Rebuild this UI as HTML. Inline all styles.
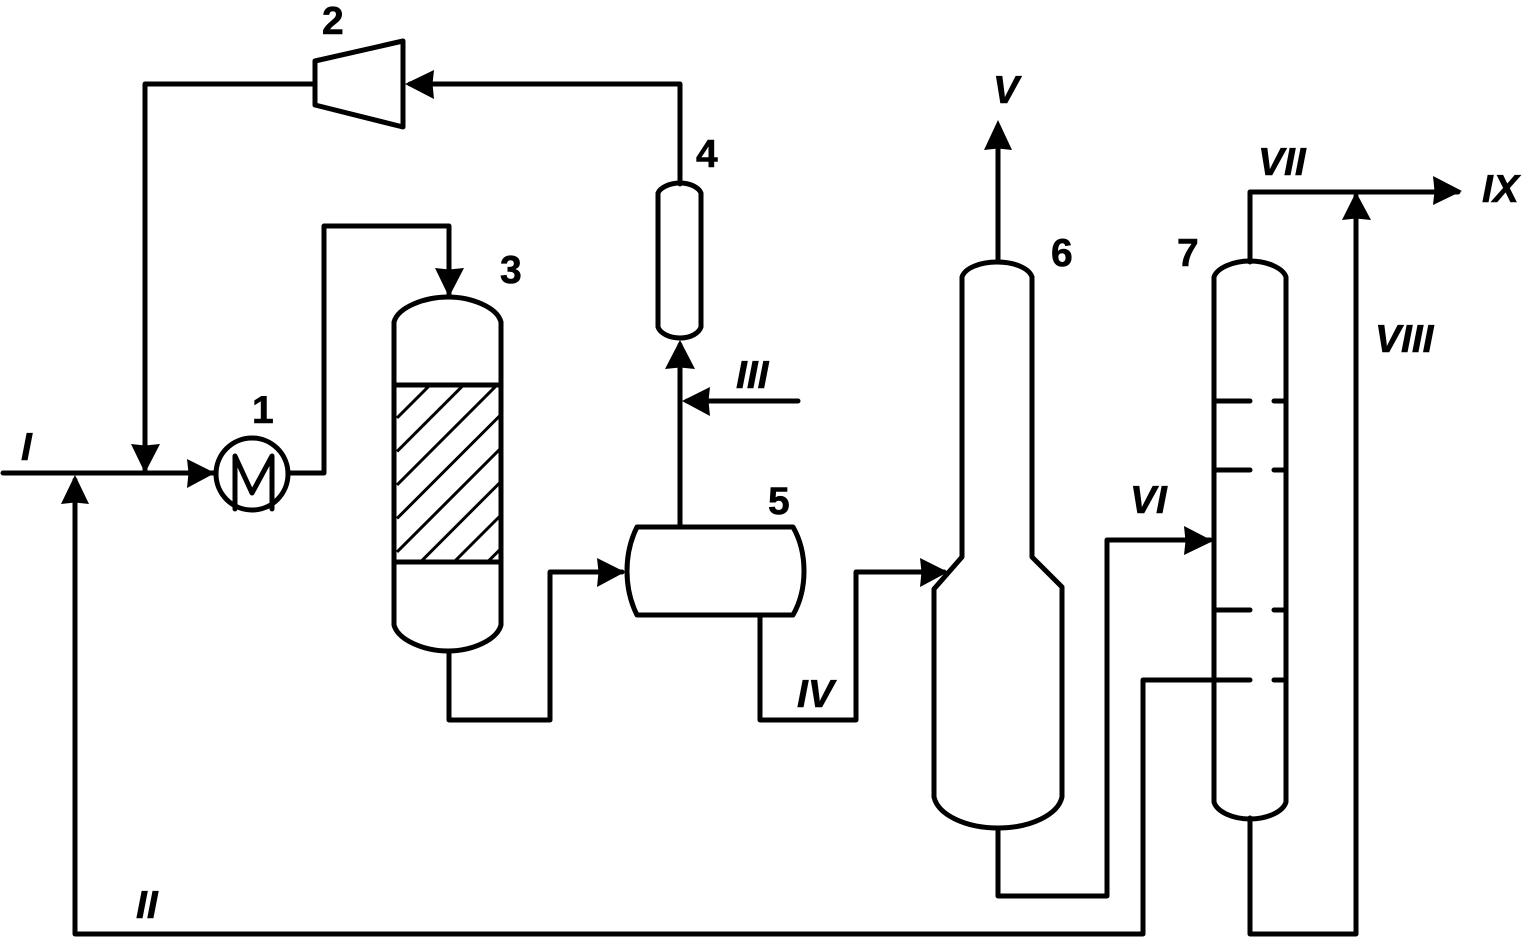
<!DOCTYPE html>
<html>
<head>
<meta charset="utf-8">
<style>
html,body{margin:0;padding:0;background:#fff;}
svg{display:block;}
text{font-family:"Liberation Sans",sans-serif;font-weight:bold;font-size:39px;fill:#000;stroke:#000;stroke-width:.6px;}
.r{font-style:italic;}
</style>
</head>
<body>
<svg width="1528" height="940" viewBox="0 0 1528 940" xmlns="http://www.w3.org/2000/svg">
<defs><clipPath id="c"><rect x="396" y="387" width="103" height="174"/></clipPath></defs>
<rect width="1528" height="940" fill="#fff"/>
<g clip-path="url(#c)" stroke="#000" stroke-width="3" fill="none">
<path d="M397 418L500 315M397 451.5L500 348.5M397 485L500 382M397 518.5L500 415.5M397 552L500 449M397 585.500L500 482.500M397 619L500 516M397 652.500L500 549.500"/>
</g>
<g fill="none" stroke="#000" stroke-width="5" stroke-linejoin="round" stroke-linecap="round">
<!-- process lines -->
<path d="M3 473H215"/>
<path d="M315 84H145V470"/>
<path d="M680 184V84H410"/>
<path d="M290 473H324V226H449V294"/>
<path d="M449 651V720H550V572H622"/>
<path d="M680 525V345"/>
<path d="M798 401H687"/>
<path d="M760 615V720H856V572H944"/>
<path d="M998 262V127"/>
<path d="M998 828V896H1107V540H1210"/>
<path d="M1250 262V192H1458"/>
<path d="M1250 818V934H1356V196"/>
<path d="M1215 680H1143V934H75V480"/>
<!-- compressor -->
<path d="M315 61L403 41V127L315 105Z"/>
<!-- exchanger -->
<circle cx="252" cy="474" r="36"/>
<path d="M235 509V456L252 493L272 456V509"/>
<!-- vessel 3 -->
<path d="M394 625V322C398 307 425 297 448 297C471 297 497 307 501 322V625C497 640 472 651 448 651C424 651 398 640 394 625Z"/>
<path d="M394 385H501M394 562H501"/>
<!-- vessel 4 -->
<path d="M658 193C660 188 669 183 680 183C691 183 699 188 701 193V327C699 333 691 338 680 338C669 338 660 333 658 327Z"/>
<!-- vessel 5 -->
<path d="M637 527H793C801 541 804 556 804 571C804 586 801 601 793 615H637C630 601 627 586 627 571C627 556 630 541 637 527Z"/>
<!-- column 6 -->
<path d="M962 557V277C965 268 980 262 997 262C1014 262 1029 268 1032 277V557L1062 587V797C1058 815 1030 828 998 828C966 828 938 815 934 797V589Z"/>
<!-- column 7 -->
<path d="M1214 277C1217 268 1233 261 1250 261C1267 261 1283 268 1286 277V802C1283 812 1267 819 1250 819C1233 819 1217 812 1214 802Z"/>
<!-- trays -->
<path d="M1214 401H1250M1274 401H1285M1214 470H1250M1274 470H1285M1214 610H1250M1274 610H1285M1214 680H1250M1274 680H1285"/>
</g>
<g fill="#000">
<path d="M215 473L187 459L188.500 473L187 488Z"/>
<path d="M145 473L131 444L145 445.500L160 444Z"/>
<path d="M75 475L61 504L75 502.500L89 504Z"/>
<path d="M405 84L434 70L432.500 84L434 99Z"/>
<path d="M449 297L435 268L449 269.500L464 268Z"/>
<path d="M625 572L597 558L598.500 572L597 587Z"/>
<path d="M680 340L665 369L680 367.500L695 369Z"/>
<path d="M682 401L710 387L708.500 401L710 416Z"/>
<path d="M948 572L920 558L921.500 572L920 587Z"/>
<path d="M998 120L984 150L998 148.500L1012 150Z"/>
<path d="M1213 541L1184 526L1185.500 541L1184 555Z"/>
<path d="M1462 191L1433 176L1434.500 191L1433 205Z"/>
<path d="M1356 192L1342 220L1356 218.500L1371 220Z"/>
</g>
<text x="252" y="423">1</text>
<text x="322" y="34">2</text>
<text x="500" y="283">3</text>
<text x="696" y="167">4</text>
<text x="768" y="514">5</text>
<text x="1051" y="266">6</text>
<text x="1177" y="266">7</text>
<text class="r" x="21" y="460">I</text>
<text class="r" x="136" y="918">II</text>
<text class="r" x="736" y="388">III</text>
<text class="r" x="797" y="707">IV</text>
<text class="r" x="993" y="103">V</text>
<text class="r" x="1130" y="513">VI</text>
<text class="r" x="1258" y="175">VII</text>
<text class="r" x="1375" y="352">VIII</text>
<text class="r" x="1482" y="202">IX</text>
</svg>
</body>
</html>
